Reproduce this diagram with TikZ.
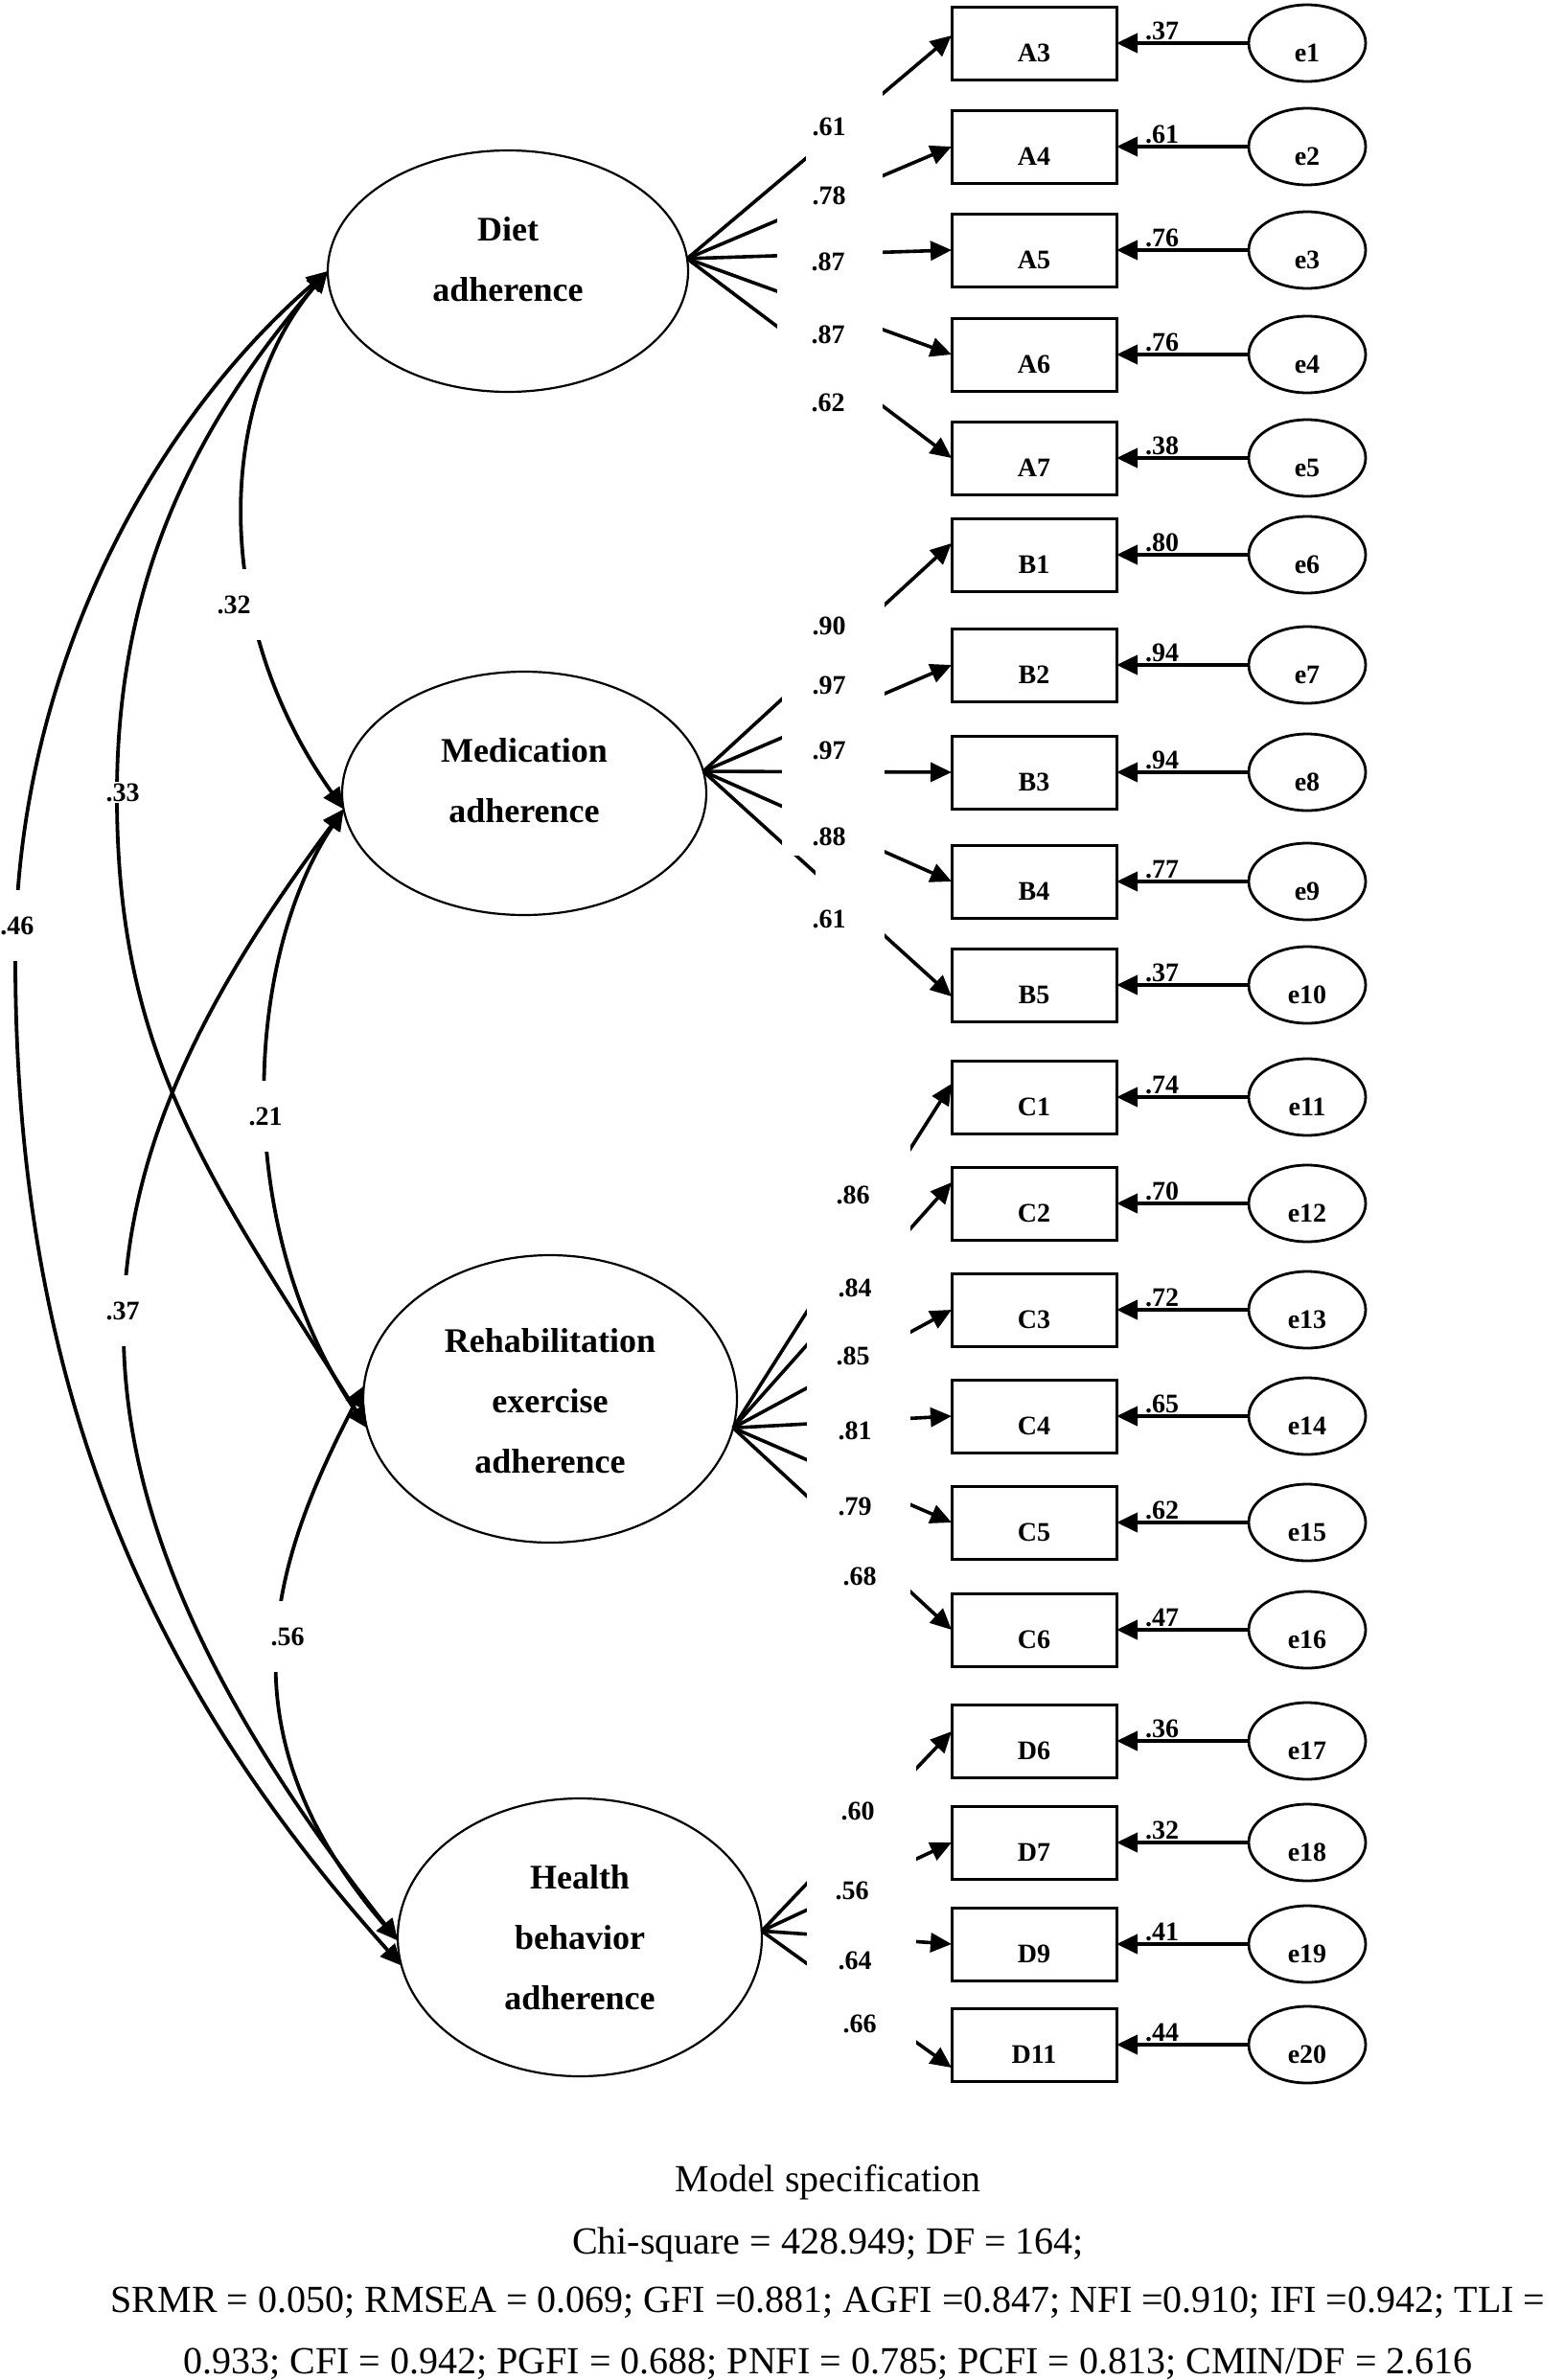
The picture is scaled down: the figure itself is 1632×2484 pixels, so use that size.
\documentclass[tikz,border=0pt]{standalone}
\usepackage{fontspec}
\setmainfont{Liberation Serif}
\usetikzlibrary{arrows.meta,shapes.geometric}
\begin{document}
\begin{tikzpicture}[x=0.5pt,y=-0.5pt,
  >={Triangle[length=11pt,width=10pt]},
  every node/.style={inner sep=0pt,outer sep=0pt},
  lat/.style={draw,ellipse,line width=1.1pt},
  lattext/.style={align=center,font=\bfseries\fontsize{18}{31.5}\selectfont},
  obs/.style={draw,rectangle,line width=1.5pt,minimum width=86pt,minimum height=38pt,
    font=\bfseries\fontsize{14}{16}\selectfont,text height=19.5pt,text depth=0pt},
  err/.style={draw,ellipse,line width=1.4pt,minimum width=61pt,minimum height=40pt,
    font=\bfseries\fontsize{14}{16}\selectfont,text height=19.5pt,text depth=0pt},
  num/.style={font=\bfseries\fontsize{14}{16}\selectfont},
  corr/.style={num,fill=white,inner xsep=6pt,inner ysep=14pt},
  corrt/.style={num,fill=white,inner sep=1pt},
  load/.style={->,line width=1.8pt},
  errl/.style={->,line width=2pt},
  cov/.style={<->,line width=1.9pt},
  bottomtext/.style={anchor=base,font=\fontsize{20}{24}\selectfont}
]
\useasboundingbox (0,0) rectangle (1632,2484);

% latent variables
\node[lat,minimum width=188pt,minimum height=126pt] (diet) at (530,283) {};
\node[lat,minimum width=190pt,minimum height=127pt] (med) at (547,828) {};
\node[lat,minimum width=195pt,minimum height=150pt] (rehab) at (574,1460) {};
\node[lat,minimum width=190pt,minimum height=145pt] (health) at (605,2022) {};
\node[lattext] (dietT) at (530,271) {Diet\\adherence};
\node[lattext] (medT) at (547,815) {Medication\\adherence};
\node[lattext] (rehabT) at (574,1462) {Rehabilitation\\exercise\\adherence};
\node[lattext] (healthT) at (605,2022) {Health\\behavior\\adherence};

% observed variables, errors
\foreach \b/\yy/\ee/\ev in {A3/45/e1/.37, A4/153/e2/.61, A5/261/e3/.76, A6/370/e4/.76, A7/478/e5/.38,
  B1/579/e6/.80, B2/694/e7/.94, B3/806/e8/.94, B4/920/e9/.77, B5/1028/e10/.37,
  C1/1145/e11/.74, C2/1256/e12/.70, C3/1367/e13/.72, C4/1478/e14/.65, C5/1589/e15/.62, C6/1701/e16/.47,
  D6/1817/e17/.36, D7/1923/e18/.32, D9/2029/e19/.41, D11/2134/e20/.44}{
  \node[obs] (\b) at (1079,\yy) {\b};
  \node[err] (\ee) at (1364,\yy) {\ee};
  \draw[errl] (\ee) -- (\b);
  \node[num,anchor=base west] (lab-\ee) at ([xshift=15pt,yshift=2pt]\b.east) {\ev};
}

% loadings
\foreach \s/\t/\sh in {diet.4/A3/4, diet.4/A4/0, diet.4/A5/0, diet.4/A6/0, diet.4/A7/0,
  med.7/B1/6, med.7/B2/0, med.7/B3/0, med.7/B4/0, med.7/B5/-6,
  rehab.-9/C1/7, rehab.-9/C2/11, rehab.-9/C3/0, rehab.-9/C4/0, rehab.-9/C5/0, rehab.-9/C6/0,
  health.2/D6/5, health.2/D7/0, health.2/D9/0, health.2/D11/-12}{
  \draw[load] (\s) -- ([yshift=\sh pt]\t.west);
}

% gaps behind the loading labels
\fill[white] (811,200) rectangle (921,470);
\fill[white] (841,80) rectangle (921,200);
\fill[white] (816,620) rectangle (923,893);
\fill[white] (851,893) rectangle (923,1000);
\fill[white] (842,1190) rectangle (950,1670);
\fill[white] (842,1840) rectangle (956,2136);

\foreach \x/\y/\v [count=\i] in {865/132/.61, 865/204/.78, 864/273/.87, 864/349/.87, 864/420/.62,
  865/653/.90, 865/715/.97, 865/783/.97, 865/873/.88, 865/959/.61,
  890/1247/.86, 892/1344/.84, 890/1415/.85, 892/1493/.81, 892/1572/.79, 897/1645/.68,
  895/1890/.60, 889/1973/.56, 892/2046/.64, 897/2112/.66}{
  \node[num] (ld\i) at (\x,\y) {\v};
}

% covariances
\draw[cov] (diet.180) .. controls (225,420) and (220,650) .. (med.185);
\draw[cov] (diet.180) .. controls (185,464) and (122,630) .. (122,830)
  .. controls (122,1100) and (215,1225) .. (rehab.189);
\draw[cov] (diet.180) .. controls (160,440) and (16,700) .. (16,1000)
  .. controls (16,1450) and (156,1759) .. (health.189);
\draw[cov] (med.185) .. controls (255,1000) and (240,1280) .. (rehab.189);
\draw[cov] (med.185) .. controls (95,1198) and (0,1501) .. (health.181);
\draw[cov] (rehab.176) .. controls (290,1620) and (221,1800) .. (health.181);

\node[corr] (c32) at (244,631) {.32};
\node[corrt] (c33) at (128,827) {.33};
\node[corr] (c46) at (18,966) {.46};
\node[corr] (c21) at (277,1165) {.21};
\node[corr] (c37) at (128,1368) {.37};
\node[corr] (c56) at (300,1708) {.56};

% model specification
\node[bottomtext] (t1) at (864,2287) {Model specification};
\node[bottomtext] (t2) at (864,2352) {Chi-square = 428.949; DF = 164;};
\node[bottomtext] (t3) at (864,2413) {SRMR = 0.050; RMSEA = 0.069; GFI =0.881; AGFI =0.847; NFI =0.910; IFI =0.942; TLI =};
\node[bottomtext] (t4) at (864,2477) {0.933; CFI = 0.942; PGFI = 0.688; PNFI = 0.785; PCFI = 0.813; CMIN/DF = 2.616};
\end{tikzpicture}
\end{document}
